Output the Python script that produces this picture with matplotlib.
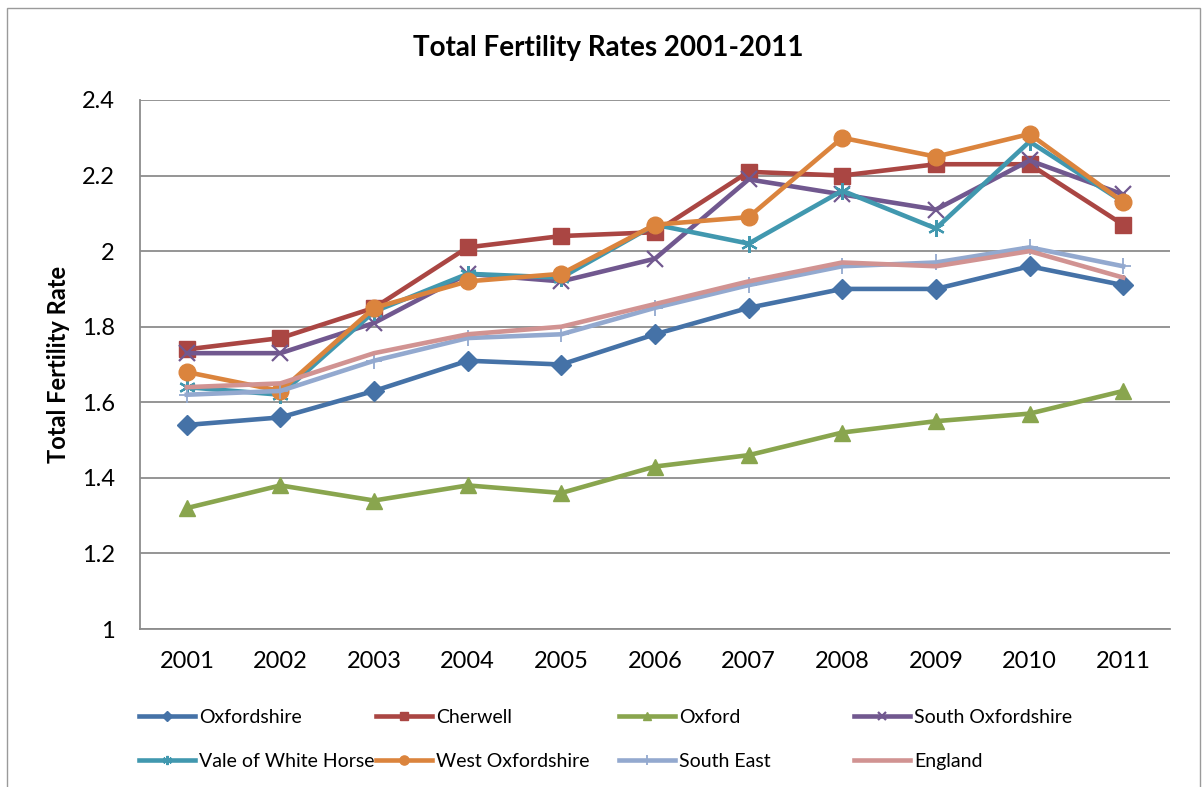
import matplotlib.pyplot as plt
import matplotlib.patches as patches

# --- data ---
years = [2001, 2002, 2003, 2004, 2005, 2006, 2007, 2008, 2009, 2010, 2011]

oxfordshire = [1.54, 1.56, 1.63, 1.71, 1.70, 1.78, 1.85, 1.90, 1.90, 1.96, 1.91]
cherwell = [1.74, 1.77, 1.85, 2.01, 2.04, 2.05, 2.21, 2.20, 2.23, 2.23, 2.07]
oxford = [1.32, 1.38, 1.34, 1.38, 1.36, 1.43, 1.46, 1.52, 1.55, 1.57, 1.63]
south_oxon = [1.73, 1.73, 1.81, 1.94, 1.92, 1.98, 2.19, 2.15, 2.11, 2.24, 2.15]
vale_wh = [1.64, 1.62, 1.84, 1.94, 1.93, 2.07, 2.02, 2.16, 2.06, 2.29, 2.13]
west_oxon = [1.68, 1.63, 1.85, 1.92, 1.94, 2.07, 2.09, 2.30, 2.25, 2.31, 2.13]
south_east = [1.62, 1.63, 1.71, 1.77, 1.78, 1.85, 1.91, 1.96, 1.97, 2.01, 1.96]
england = [1.64, 1.65, 1.73, 1.78, 1.80, 1.86, 1.92, 1.97, 1.96, 2.00, 1.93]

plt.rcParams['font.family'] = ['Lato', 'DejaVu Sans']

W, H = 1203, 787
fig = plt.figure(figsize=(W / 100, H / 100), dpi=100)
ax = fig.add_axes([140 / W, 1 - 629 / H, 1030 / W, 529 / H])

# light border around the whole chart
fig.patches.append(patches.Rectangle((7 / W, -0.01), 1 - 10 / W, 1.0, transform=fig.transFigure,
                                     fill=False, edgecolor='#9a9a9a', linewidth=1))

x = list(range(len(years)))
lw = 3.3
series = [
    ('Oxfordshire', oxfordshire, '#4572A7', dict(marker='D', markersize=10)),
    ('Cherwell', cherwell, '#AA4643', dict(marker='s', markersize=11)),
    ('Oxford', oxford, '#89A54E', dict(marker='^', markersize=11)),
    ('South Oxfordshire', south_oxon, '#71588F',
     dict(marker='x', markersize=11, markeredgewidth=1.6)),
    ('Vale of White Horse', vale_wh, '#4198AF',
     dict(marker=(6, 2, 0), markersize=12, markeredgewidth=1.6)),
    ('West Oxfordshire', west_oxon, '#DB843D', dict(marker='o', markersize=12)),
    ('South East', south_east, '#93A9CF',
     dict(marker='+', markersize=12, markeredgewidth=1.3)),
    ('England', england, '#D19392', dict(marker='None')),
]

handles = {}
for name, vals, col, mk in series:
    line, = ax.plot(x, vals, color=col, linewidth=lw, markerfacecolor=col,
                    markeredgecolor=col, label=name, **mk)
    handles[name] = line

ax.set_xlim(-0.5, len(years) - 0.5)
ax.set_ylim(1, 2.4)
ax.set_yticks([1, 1.2, 1.4, 1.6, 1.8, 2, 2.2, 2.4])
ax.set_yticklabels(['1', '1.2', '1.4', '1.6', '1.8', '2', '2.2', '2.4'])
ax.set_xticks(x)
ax.set_xticklabels([str(y) for y in years])
ax.tick_params(axis='both', length=0, labelsize=17)
ax.tick_params(axis='x', pad=16)
ax.tick_params(axis='y', pad=18)

ax.grid(axis='y', color='#8c8c8c', linewidth=1.3)
ax.set_axisbelow(True)
for s in ['top', 'right']:
    ax.spines[s].set_visible(False)
for s in ['left', 'bottom']:
    ax.spines[s].set_color('#8c8c8c')
    ax.spines[s].set_linewidth(1.3)

ax.set_ylabel('Total Fertility Rate', fontsize=17, fontweight='bold')
ax.yaxis.set_label_coords(-70 / 1030, 0.5)
fig.text(608 / W, 1 - 48 / H, 'Total Fertility Rates 2001-2011', ha='center', va='center',
         fontsize=20, fontweight='bold')

# legend laid out as in the reference: 4 evenly spaced columns, 2 rows
columns = [['Oxfordshire', 'Vale of White Horse'],
           ['Cherwell', 'West Oxfordshire'],
           ['Oxford', 'South East'],
           ['South Oxfordshire', 'England']]
col_x = [139, 376, 619, 854]
for cx, names in zip(col_x, columns):
    fig.legend([handles[n] for n in names], names, frameon=False,
               loc='upper left', bbox_to_anchor=(cx / W, 1 - 709 / H),
               fontsize=14, handlelength=2.9, handletextpad=0.2,
               labelspacing=1.4, markerscale=0.55, borderpad=0, borderaxespad=0)

plt.savefig('out.png', dpi=100)
